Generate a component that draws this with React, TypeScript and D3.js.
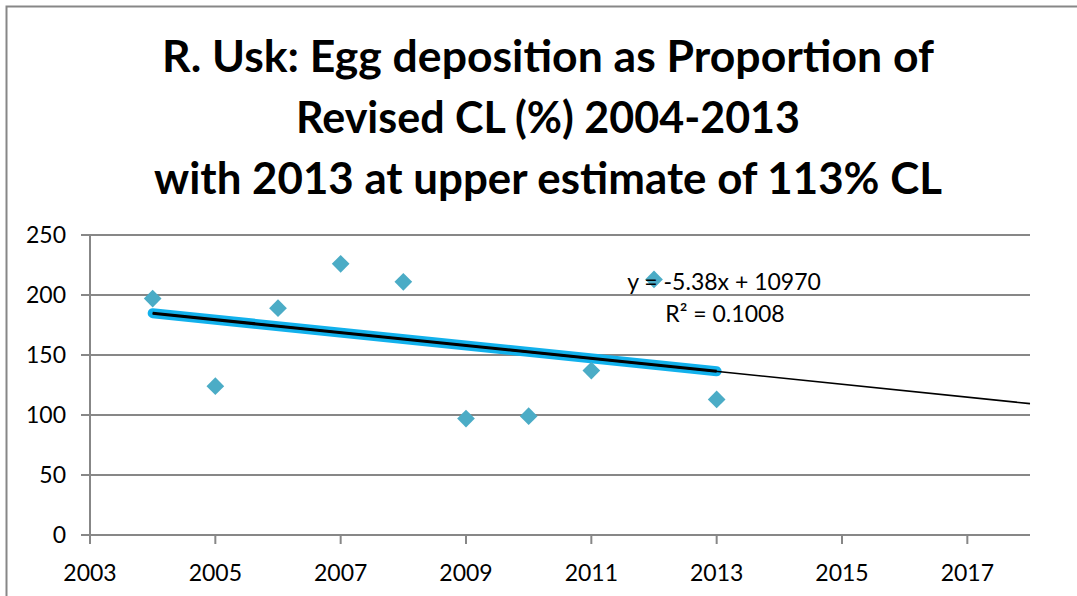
import React, { useEffect, useRef } from 'react';
import * as d3 from 'd3';

// egg deposition as % of revised CL
const years = [2004, 2005, 2006, 2007, 2008, 2009, 2010, 2011, 2012, 2013];
const eggPct = [197, 124, 189, 226, 211, 97, 99, 137, 213, 113];

const xTicks = [2003, 2005, 2007, 2009, 2011, 2013, 2015, 2017];
const yTicks = [0, 50, 100, 150, 200, 250];
const titleLines = [
  'R. Usk: Egg deposition as Proportion of',
  'Revised CL (%) 2004-2013',
  'with 2013 at upper estimate of 113% CL',
];
const equationText = 'y = -5.38x + 10970';
const r2Text = 'R² = 0.1008';

const W = 1077;
const H = 596;

const App = () => {
  const svgRef = useRef<SVGSVGElement>(null);

  useEffect(() => {
    const svg = d3.select(svgRef.current);
    svg.selectAll('*').remove();

    const font = 'Lato, "Open Sans", sans-serif';
    const grey = '#878787';

    // outer chart frame (cut off at right and bottom)
    svg.append('rect')
      .attr('x', 6.5).attr('y', 6.5)
      .attr('width', 1200).attr('height', 800)
      .attr('fill', 'white')
      .attr('stroke', grey).attr('stroke-width', 2);

    const x = d3.scaleLinear().domain([2003, 2018]).range([90, 1030]);
    const y = d3.scaleLinear().domain([0, 250]).range([535, 235]);

    // title
    const titleWidths = [772, 504, 788];
    svg.append('g').selectAll('text')
      .data(titleLines)
      .enter().append('text')
      .attr('x', 548)
      .attr('y', (d, i) => 72 + i * 61)
      .attr('text-anchor', 'middle')
      .attr('font-family', font)
      .attr('font-weight', 'bold')
      .attr('font-size', 44)
      .attr('textLength', (d, i) => titleWidths[i])
      .attr('lengthAdjust', 'spacingAndGlyphs')
      .attr('fill', '#000')
      .text(d => d);

    // horizontal gridlines
    svg.append('g').selectAll('line')
      .data(yTicks)
      .enter().append('line')
      .attr('x1', 81).attr('x2', 1030)
      .attr('y1', d => y(d)).attr('y2', d => y(d))
      .attr('stroke', grey).attr('stroke-width', 2);

    // y axis line
    svg.append('line')
      .attr('x1', x(2003)).attr('x2', x(2003))
      .attr('y1', y(250)).attr('y2', y(0) + 9)
      .attr('stroke', grey).attr('stroke-width', 2);

    // x ticks
    svg.append('g').selectAll('line')
      .data(xTicks)
      .enter().append('line')
      .attr('x1', d => x(d)).attr('x2', d => x(d))
      .attr('y1', y(0)).attr('y2', y(0) + 9)
      .attr('stroke', grey).attr('stroke-width', 2);

    // tick labels
    svg.append('g').selectAll('text')
      .data(yTicks)
      .enter().append('text')
      .attr('x', 66)
      .attr('y', d => y(d) + 8)
      .attr('text-anchor', 'end')
      .attr('font-family', font)
      .attr('font-size', 23)
      .text(d => d);

    svg.append('g').selectAll('text')
      .data(xTicks)
      .enter().append('text')
      .attr('x', d => x(d))
      .attr('y', 581)
      .attr('text-anchor', 'middle')
      .attr('font-family', font)
      .attr('font-size', 23)
      .text(d => d);

    // least squares trend
    const mx = d3.mean(years)!;
    const my = d3.mean(eggPct)!;
    const sxy = d3.sum(years, (d, i) => (d - mx) * (eggPct[i] - my));
    const sxx = d3.sum(years, d => (d - mx) ** 2);
    const slope = sxy / sxx;
    const fit = (t: number) => my + slope * (t - mx);

    const line = d3.line<number>().x(d => x(d)).y(d => y(fit(d)));
    const firstYear = years[0];
    const lastYear = years[years.length - 1];

    // fitted series (thick blue with black core)
    svg.append('path')
      .attr('d', line([firstYear, lastYear]))
      .attr('fill', 'none')
      .attr('stroke', '#12B1EC')
      .attr('stroke-width', 10)
      .attr('stroke-linecap', 'round');
    svg.append('path')
      .attr('d', line([firstYear, lastYear]))
      .attr('fill', 'none')
      .attr('stroke', '#000')
      .attr('stroke-width', 3);

    // trendline forecast to 2018
    svg.append('path')
      .attr('d', line([firstYear, 2018]))
      .attr('fill', 'none')
      .attr('stroke', '#000')
      .attr('stroke-width', 1.6);

    // diamonds
    const sym = d3.symbol().type(d3.symbolDiamond2).size(200);
    svg.append('g').selectAll('path')
      .data(years)
      .enter().append('path')
      .attr('d', sym)
      .attr('transform', (d, i) => `translate(${x(d)},${y(eggPct[i])})`)
      .attr('fill', '#4BACC6');

    // trendline label
    svg.append('text')
      .attr('x', 724).attr('y', 290)
      .attr('text-anchor', 'middle')
      .attr('font-family', font)
      .attr('font-size', 23)
      .text(equationText);
    svg.append('text')
      .attr('x', 725).attr('y', 322)
      .attr('text-anchor', 'middle')
      .attr('font-family', font)
      .attr('font-size', 23)
      .text(r2Text);
  });

  return (
    <svg ref={svgRef} width={W} height={H}
      style={{ position: 'absolute', left: 0, top: 0, background: 'white' }} />
  );
};

export default App;
